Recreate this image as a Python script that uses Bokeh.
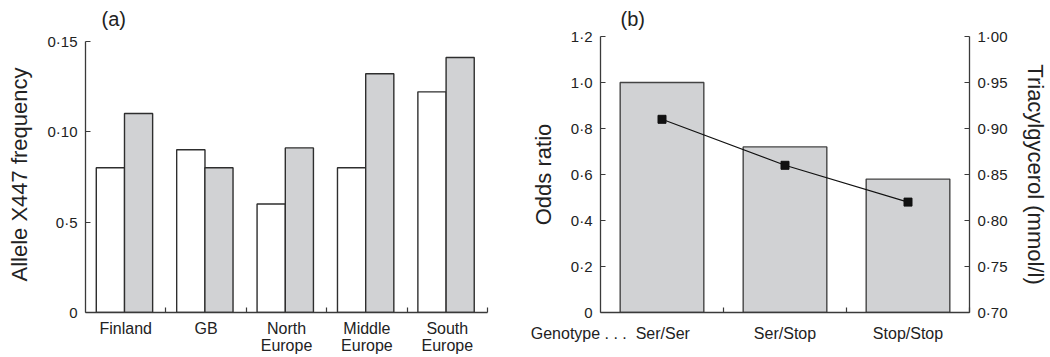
import numpy as np
from bokeh.plotting import figure
from bokeh.models import FixedTicker, LinearAxis, Range1d, ColumnDataSource
from bokeh.layouts import row
from bokeh.embed import file_html
from bokeh.resources import INLINE

# ---- panel (a): allele X447 frequency by region ----
regions = ["Finland", "GB", "North\nEurope", "Middle\nEurope", "South\nEurope"]
freq_white = [0.08, 0.09, 0.06, 0.08, 0.122]
freq_grey = [0.110, 0.08, 0.091, 0.132, 0.141]
a_yticks = [0, 0.05, 0.10, 0.15]
a_ylabels = ["0", "0·5", "0·10", "0·15"]

# ---- panel (b): odds ratio and triacylglycerol by genotype ----
genotypes = ["Ser/Ser", "Ser/Stop", "Stop/Stop"]
genotype_caption = "Genotype . . . \u00a0"
odds_ratio = [1.0, 0.72, 0.58]
triacylglycerol = [0.91, 0.86, 0.82]
b_yticks = [0, 0.2, 0.4, 0.6, 0.8, 1.0, 1.2]
b_ylabels = ["0", "0·2", "0·4", "0·6", "0·8", "1·0", "1·2"]
b_rticks = [0.70, 0.75, 0.80, 0.85, 0.90, 0.95, 1.00]
b_rlabels = ["0·70", "0·75", "0·80", "0·85", "0·90", "0·95", "1·00"]

FONT = "Liberation Sans"
INK = "#222222"
AXIS = "#3a3a3a"
GREY = "#d1d2d4"


def style_axis(ax, size="15px"):
    ax.axis_line_color = AXIS
    ax.axis_line_width = 1.3
    ax.major_tick_line_color = AXIS
    ax.major_tick_line_width = 1.2
    ax.major_tick_in = 5
    ax.major_tick_out = 0
    ax.minor_tick_line_color = AXIS
    ax.minor_tick_line_width = 1.2
    ax.minor_tick_in = 5
    ax.minor_tick_out = 0
    ax.major_label_text_font = FONT
    ax.major_label_text_font_size = size
    ax.major_label_text_color = INK
    ax.major_label_standoff = 8
    ax.axis_label_text_font = FONT
    ax.axis_label_text_font_size = "22px"
    ax.axis_label_text_font_style = "normal"
    ax.axis_label_text_color = INK


def category_axis(p, names, standoff, first_shift=0.0):
    """Labels centred under each category, short ticks on the boundaries."""
    n = len(names)
    centres = list(np.arange(n) + 0.5)
    centres[0] -= first_shift
    p.xaxis.ticker = FixedTicker(ticks=centres, minor_ticks=list(range(1, n + 1)))
    p.xaxis.major_label_overrides = {c: s for c, s in zip(centres, names)}
    style_axis(p.xaxis[0], "16px")
    p.xaxis.major_tick_line_color = None
    p.xaxis.major_label_standoff = standoff
    p.xaxis.major_label_text_line_height = 1.05


def panel_title(p, text, offset):
    p.title.text = text
    p.title.align = "left"
    p.title.offset = offset
    p.title.text_font = FONT
    p.title.text_font_size = "20px"
    p.title.text_font_style = "normal"
    p.title.text_color = INK
    p.title.text_line_height = 1.0
    p.title.vertical_align = "top"
    p.title.standoff = 10


# both panels share the same frame top/bottom inside the row
TOP, BOTTOM = 36, 43

# ---------------- panel (a) ----------------
na = len(regions)
pa = figure(width=520, height=357, output_backend="svg", toolbar_location=None,
            x_range=Range1d(0, na), y_range=Range1d(0, 0.1526),
            min_border_left=85, min_border_right=33,
            min_border_top=TOP, min_border_bottom=BOTTOM)
pa.outline_line_color = None
pa.grid.visible = False
pa.background_fill_color = "white"
panel_title(pa, "(a)", 16)

xa = np.arange(na) + 0.5
src_a = ColumnDataSource(dict(xw=xa - 0.19, xg=xa + 0.16, w=freq_white, g=freq_grey))
pa.vbar(x="xw", top="w", width=0.352, bottom=0, source=src_a,
        fill_color="white", line_color="#2e2e2e", line_width=1.4)
pa.vbar(x="xg", top="g", width=0.35, bottom=0, source=src_a,
        fill_color=GREY, line_color="#2e2e2e", line_width=1.4)

category_axis(pa, regions, 7)
pa.yaxis.ticker = FixedTicker(ticks=a_yticks)
pa.yaxis.major_label_overrides = {t: s for t, s in zip(a_yticks, a_ylabels)}
style_axis(pa.yaxis[0])
pa.yaxis.bounds = (a_yticks[0], a_yticks[-1])
pa.yaxis.axis_label = "Allele X447 frequency"
pa.yaxis.axis_label_standoff = 12

# ---------------- panel (b) ----------------
nb = len(genotypes)
pb = figure(width=530, height=357, output_backend="svg", toolbar_location=None,
            x_range=Range1d(0, nb), y_range=Range1d(0, 1.2),
            min_border_left=80, min_border_right=79,
            min_border_top=TOP, min_border_bottom=BOTTOM)
pb.outline_line_color = None
pb.grid.visible = False
pb.background_fill_color = "white"
pb.extra_y_ranges = {"tg": Range1d(0.70, 1.00)}
panel_title(pb, "(b)", 20)

xb = np.arange(nb) + 0.5
src_b = ColumnDataSource(dict(x=xb, odds=odds_ratio, tg=triacylglycerol))
pb.vbar(x="x", top="odds", width=0.68, bottom=0, source=src_b,
        fill_color=GREY, line_color="#444444", line_width=1.4)
pb.line(x="x", y="tg", source=src_b, y_range_name="tg",
        line_color="#111111", line_width=1.1)
pb.scatter(x="x", y="tg", source=src_b, y_range_name="tg", marker="square",
           size=8, fill_color="#111111", line_color="#111111")

# the first genotype label carries the "Genotype . . ." caption in front of it
b_labels = [genotype_caption + genotypes[0]] + genotypes[1:]
category_axis(pb, b_labels, 12, first_shift=0.42)
pb.yaxis.ticker = FixedTicker(ticks=b_yticks)
pb.yaxis.major_label_overrides = {t: s for t, s in zip(b_yticks, b_ylabels)}
style_axis(pb.yaxis[0])
pb.yaxis.axis_label = "Odds ratio"
pb.yaxis.axis_label_standoff = 12

right = LinearAxis(y_range_name="tg", axis_label="Triacylgycerol (mmol/l)")
right.ticker = FixedTicker(ticks=b_rticks)
right.major_label_overrides = {t: s for t, s in zip(b_rticks, b_rlabels)}
style_axis(right)
right.axis_label_standoff = 12
pb.add_layout(right, "right")

layout = row(pa, pb)
open("out.html", "w").write(file_html(layout, INLINE))
